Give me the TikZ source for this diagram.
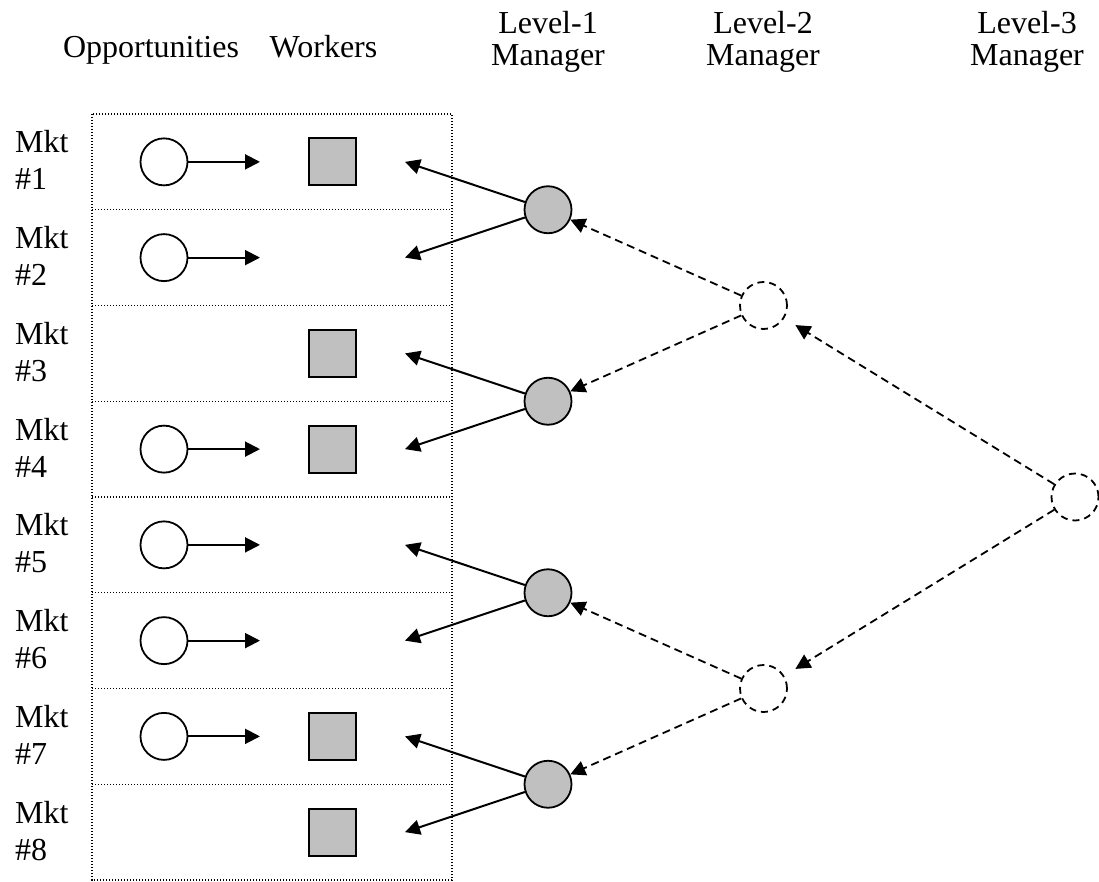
\documentclass[tikz,border=0pt]{standalone}
\usepackage{fontspec}
\setmainfont{Liberation Serif}
\usetikzlibrary{arrows.meta}
\definecolor{grayfill}{HTML}{C0C0C0}
\begin{document}
\begin{tikzpicture}[x=1pt,y=-1pt,
  lbl/.style={font=\fontsize{32}{32}\selectfont, inner sep=0pt, align=center, anchor=base},
  mkt/.style={font=\fontsize{32}{37}\selectfont, inner sep=0pt, align=left, anchor=base west},
  rowbox/.style={minimum width=360pt, minimum height=95.75pt, inner sep=0pt, outer sep=0pt},
  dotline/.style={line width=1.4pt, dash pattern=on 1.4pt off 1.6pt},
  opp/.style={circle, draw, line width=1.8pt, fill=white, minimum size=47pt, inner sep=0pt},
  wrk/.style={rectangle, draw, line width=2pt, fill=grayfill, minimum size=47pt, inner sep=0pt},
  mgr/.style={circle, draw, line width=1.8pt, fill=grayfill, minimum size=47pt, inner sep=0pt},
  vac/.style={circle, draw, line width=1.8pt, dash pattern=on 7pt off 5pt, minimum size=47pt, inner sep=0pt},
  arr/.style={line width=2pt, -{Triangle[length=15pt,width=15pt]}},
  darr/.style={line width=1.8pt, dash pattern=on 8pt off 5pt, -{Triangle[length=15pt,width=15pt]}},
]
\useasboundingbox (0,0) rectangle (1099,882);

% headers
\node[lbl] (hopp) at (151,58) {Opportunities};
\node[lbl] (hwrk) at (323.5,58) {Workers};
\node[lbl] (hl1) at (548,65.5) {Level-1\\Manager};
\node[lbl] (hl2) at (763,65.5) {Level-2\\Manager};
\node[lbl] (hl3) at (1027,65.5) {Level-3\\Manager};

% rows
\foreach \i in {1,...,8} {
  \pgfmathsetmacro{\yc}{114+95.75*(\i-0.5)}
  \node[rowbox] (row\i) at (272,\yc) {};
  \node[mkt] (mkt\i) at (15,\yc+28) {Mkt\\\#\i};
  \coordinate (oend\i) at (260,\yc);
  \coordinate (wend\i) at (405,\yc);
}
\draw[dotline] (row1.north west) rectangle (row8.south east);
\foreach \i in {1,...,7} {
  \draw[dotline] (row\i.south west) -- (row\i.south east);
}

% opportunities
\foreach \i in {1,2,4,5,6,7} {
  \pgfmathsetmacro{\yc}{114+95.75*(\i-0.5)}
  \node[opp] (opp\i) at (164,\yc) {};
  \draw[arr] (opp\i) -- (oend\i);
}

% workers
\foreach \i in {1,3,4,7,8} {
  \pgfmathsetmacro{\yc}{114+95.75*(\i-0.5)}
  \node[wrk] (wrk\i) at (332,\yc) {};
}

% managers
\node[mgr] (m1a) at (548,209.75) {};
\node[mgr] (m1b) at (548,401.25) {};
\node[mgr] (m1c) at (548,592.75) {};
\node[mgr] (m1d) at (548,784.25) {};
\node[vac] (m2a) at (763.5,305.5) {};
\node[vac] (m2b) at (763.5,688.5) {};
\node[vac] (m3) at (1075,497) {};

% level-1 to workers
\draw[arr] (m1a) -- (wend1);
\draw[arr] (m1a) -- (wend2);
\draw[arr] (m1b) -- (wend3);
\draw[arr] (m1b) -- (wend4);
\draw[arr] (m1c) -- (wend5);
\draw[arr] (m1c) -- (wend6);
\draw[arr] (m1d) -- (wend7);
\draw[arr] (m1d) -- (wend8);

% level-2 to level-1
\draw[darr] (m2a) -- (m1a);
\draw[darr] (m2a) -- (m1b);
\draw[darr] (m2b) -- (m1c);
\draw[darr] (m2b) -- (m1d);

% level-3 to level-2
\draw[darr, shorten >=13pt] (m3) -- (m2a);
\draw[darr, shorten >=13pt] (m3) -- (m2b);
\end{tikzpicture}
\end{document}
